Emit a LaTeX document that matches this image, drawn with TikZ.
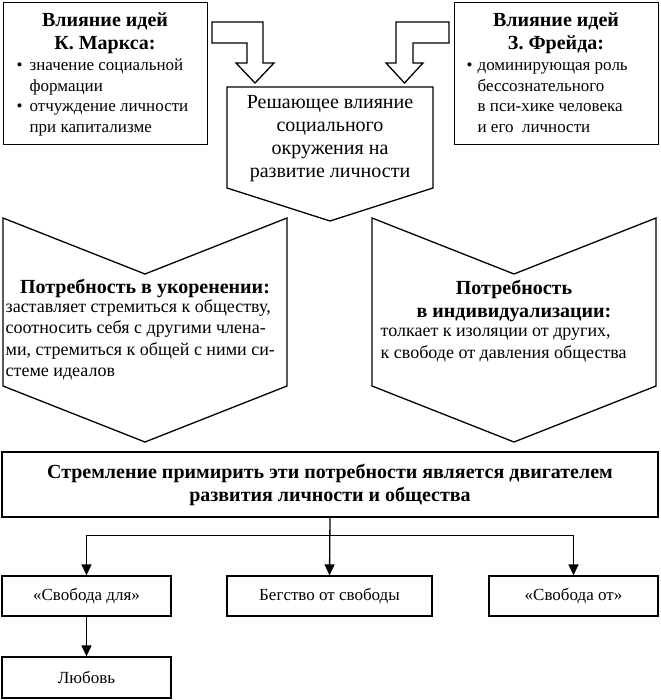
\documentclass[tikz,border=0pt]{standalone}
\usepackage{fontspec}
\setmainfont{Liberation Serif}
\usetikzlibrary{positioning,calc,arrows.meta}

\newcommand{\bul}[1][13pt]{\makebox[#1][l]{\textbullet}}

\begin{document}
\begin{tikzpicture}[x=1pt, y=-1pt, line width=1.3pt, >={Triangle[length=11pt,width=10pt]},
	frame/.style={draw, rectangle, inner sep=0pt},
	blk/.style={draw, line join=miter},
	hd/.style={inner sep=0pt, align=center, font=\fontsize{20}{23}\selectfont\bfseries},
	txt/.style={inner sep=0pt, align=left, font=\fontsize{17}{20.5}\selectfont},
	body/.style={inner sep=0pt, align=left, font=\fontsize{18}{21.5}\selectfont},
	lbl/.style={inner sep=0pt, align=center, font=\fontsize{17}{21}\selectfont}]

\useasboundingbox (0,0) rectangle (660,700);

% top boxes
\node[frame, minimum width=204pt, minimum height=142pt, anchor=north west] (marx) at (3,2) {};
\node[hd] (marxT) at (105,33) {Влияние идей\\К. Маркса:};
\node[txt, anchor=west] (marxL) at (16,97.5) {\bul значение социальной\\\hspace*{13pt}формации\\\bul отчуждение личности\\\hspace*{13pt}при капитализме};

\node[frame, minimum width=204pt, minimum height=142pt, anchor=north west] (freud) at (454,2) {};
\node[hd] (freudT) at (556,33) {Влияние идей\\З. Фрейда:};
\node[txt, anchor=west] (freudL) at (466,97.5) {\bul[11pt]доминирующая роль\\\hspace*{11pt}бессознательного\\\hspace*{11pt}в пси-хике человека\\\hspace*{11pt}и его~ личности};

% block arrows
\draw[blk] (212,22) -- (263,22) -- (263,63) -- (274,63) -- (255,83) -- (236,63) -- (247,63) -- (247,43) -- (212,43) -- cycle;
\draw[blk] (449,22) -- (396,22) -- (396,63) -- (386,63) -- (404.5,83) -- (423,63) -- (413,63) -- (413,43) -- (449,43) -- cycle;

% centre
\draw[blk] (227,87) -- (433,87) -- (433,188) -- (330,221) -- (227,188) -- cycle;
\node[lbl, font=\fontsize{20}{23}\selectfont] (social) at (330,138.5) {Решающее влияние\\социального\\окружения на\\развитие личности};

% needs
\draw[blk] (3,218) -- (145,274) -- (287,218) -- (287,386) -- (145,442) -- (3,386) -- cycle;
\node[hd] (rootT) at (145,288) {Потребность в укоренении:};
\node[body, anchor=west] (rootL) at (5,340) {заставляет стремиться к обществу,\\соотносить себя с другими члена-\\ми, стремиться к общей с ними си-\\стеме идеалов};

\draw[blk] (372,218) -- (514,274) -- (656,218) -- (656,386) -- (514,442) -- (372,386) -- cycle;
\node[hd] (indT) at (514,301) {Потребность\\в индивидуализации:};
\node[body, anchor=west] (indL) at (380,345) {толкает к изоляции от других,\\к свободе от давления общества};

% bottom
\node[frame, hd, minimum width=656pt, minimum height=65pt] (strive) at (330,484.5) {Стремление примирить эти потребности является двигателем\\развития личности и общества};

\node[frame, lbl, minimum width=169pt, minimum height=40pt] (fordl) at (86.5,596) {«Свобода для»};
\node[frame, lbl, minimum width=205pt, minimum height=40pt] (escape) at (329.5,596) {Бегство от свободы};
\node[frame, lbl, minimum width=169pt, minimum height=40pt] (fromf) at (573.5,596) {«Свобода от»};
\node[frame, lbl, minimum width=169pt, minimum height=41pt] (love) at (86.5,677.5) {Любовь};

\coordinate (hub) at ($(strive.south)+(0,18)$);
\draw[->] (strive.south) -- (escape.north);
\draw[->] (hub) -| (fordl.north);
\draw[->] (hub) -| (fromf.north);
\draw[->] (fordl) -- (love);
\end{tikzpicture}
\end{document}
